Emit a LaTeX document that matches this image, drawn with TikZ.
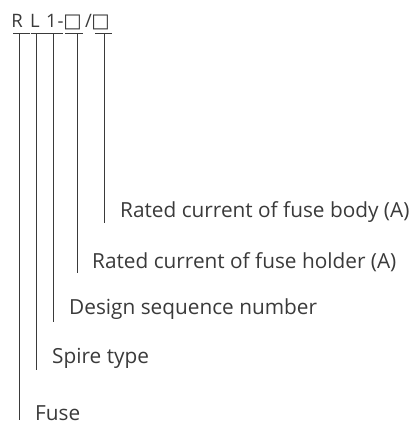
\documentclass[tikz,border=0pt]{standalone}
\usepackage{fontspec}
\setmainfont{Open Sans}
\newfontfamily\symfont{DejaVu Sans}
\definecolor{ink}{HTML}{3A3A3A}
\begin{document}
\begin{tikzpicture}[x=1pt,y=-1pt,
  lbl/.style={anchor=west,inner sep=0pt,text=ink,font=\fontsize{20.8}{24}\selectfont},
  code/.style={anchor=base,inner sep=0pt,text=ink,font=\fontsize{18.5}{22}\selectfont},
  sq/.style={anchor=base,inner sep=0pt,text=ink,font=\symfont\fontsize{19.5}{22}\selectfont},
  ln/.style={draw=ink,line width=0.8pt}]
\useasboundingbox (0,0) rectangle (411,424);
% code characters
\node[code] (cR) at (17,27) {R};
\node[code] (cL) at (35,27) {L};
\node[code] (c1) at (51.5,27) {1};
\node[code] (cd) at (60.5,27) {-};
\node[sq] (s1) at (72.5,27.5) {□};
\node[code] (cs) at (88.5,27) {/};
\node[sq] (s2) at (100.5,27.5) {□};
% tee bars
\draw[ln] (13,33) -- (30,33);
\draw[ln] (30.5,33) -- (46.5,33);
\draw[ln] (47,33) -- (62.5,33);
\draw[ln] (65,33) -- (83,33);
\draw[ln] (95,33) -- (112,33);
% labels
\node[lbl] (lbody) at (120,212) {Rated current of fuse body (A)};
\node[lbl] (lholder) at (92,262) {Rated current of fuse holder (A)};
\node[lbl] (ldesign) at (69,309) {Design sequence number};
\node[lbl] (lspire) at (52,358) {Spire type};
\node[lbl] (lfuse) at (35,413) {Fuse};
% leader ends
\coordinate (t1) at (19,33); \coordinate (e1) at (19,420);
\coordinate (t2) at (36,33); \coordinate (e2) at (36,370);
\coordinate (t3) at (53,33); \coordinate (e3) at (53,322);
\coordinate (t4) at (77,33); \coordinate (e4) at (77,273);
\coordinate (t5) at (104,33); \coordinate (e5) at (104,223);
\draw[ln] (t1) -- (e1);
\draw[ln] (t2) -- (e2);
\draw[ln] (t3) -- (e3);
\draw[ln] (t4) -- (e4);
\draw[ln] (t5) -- (e5);
\end{tikzpicture}
\end{document}
